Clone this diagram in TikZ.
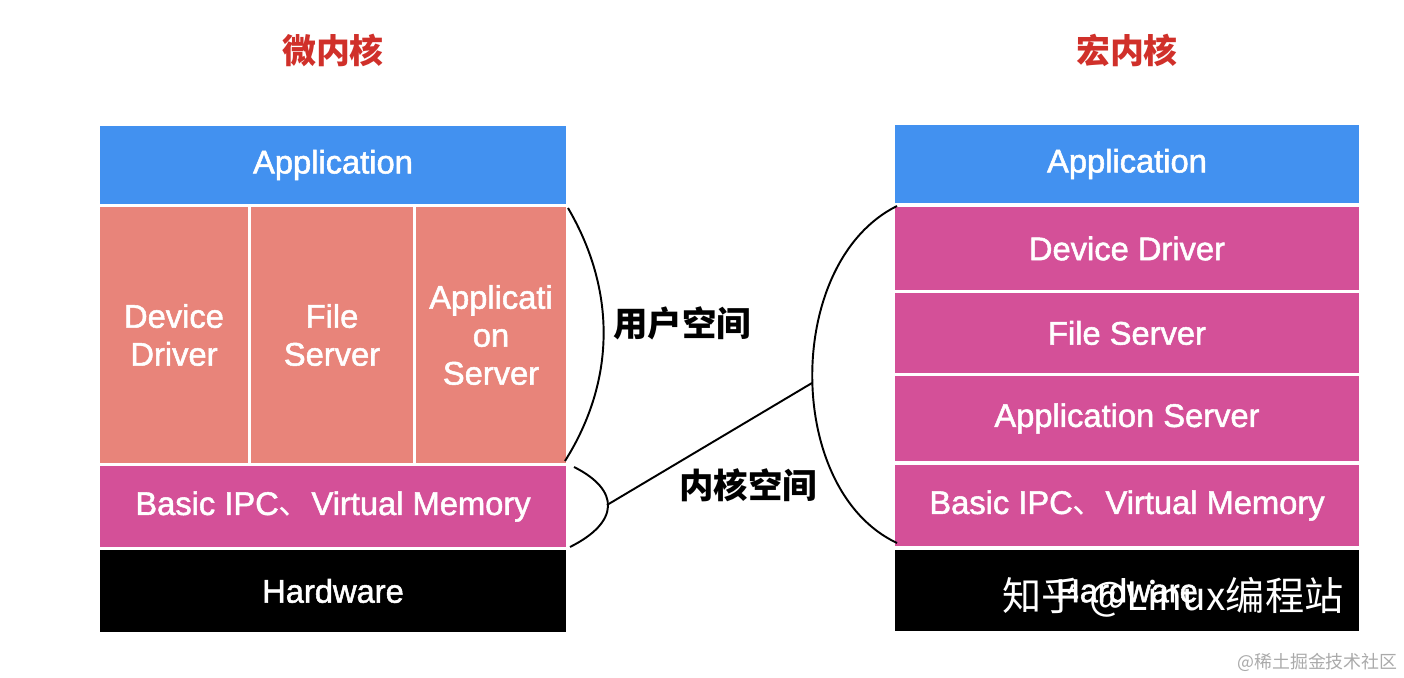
\documentclass[tikz,border=0pt]{standalone}
\usepackage{fontspec}
\setmainfont{Liberation Sans}
\newfontfamily\cjk{Noto Sans CJK SC}
\newfontfamily\lab{Liberation Sans}[FakeBold=1.6]
\definecolor{appblue}{RGB}{66,145,240}
\definecolor{salmon}{RGB}{232,132,122}
\definecolor{kmag}{RGB}{212,80,152}
\definecolor{titlered}{RGB}{208,48,42}
\definecolor{markgray}{RGB}{170,170,170}
\tikzset{
  blk/.style={inner sep=0pt, outer sep=0pt, align=center, text=white,
    font=\lab\fontsize{18.6}{21.6}\selectfont},
  appblk/.style={blk, fill=appblue},
  userblk/.style={blk, fill=salmon},
  kernblk/.style={blk, fill=kmag},
  hwblk/.style={blk, fill=black},
  title/.style={text=titlered, font=\cjk\bfseries\fontsize{19.3}{22}\selectfont},
  spacelabel/.style={text=black, font=\cjk\bfseries\fontsize{19.6}{22}\selectfont},
  brace/.style={draw=black, line width=1.1pt},
}
\begin{document}
\begin{tikzpicture}[x=0.02cm, y=-0.02cm]
\useasboundingbox (0,0) rectangle (1404,678);
% titles
\node[title] (tmicro) at (333,50) {微内核};
\node[title] (tmacro) at (1127,50) {宏内核};
% left stack (microkernel)
\node[appblk, minimum width=466*0.02cm, minimum height=78*0.02cm] (lapp) at (333,165) {\raisebox{-1.5pt}{Application}};
\node[userblk, minimum width=148*0.02cm, minimum height=256*0.02cm] (ldev) at (174,335) {Device\\Driver};
\node[userblk, minimum width=162*0.02cm, minimum height=256*0.02cm] (lfile) at (332,335) {File\\Server};
\node[userblk, minimum width=150*0.02cm, minimum height=256*0.02cm] (laps) at (491,335) {Applicati\\on\\Server};
\node[kernblk, minimum width=466*0.02cm, minimum height=81*0.02cm] (lipc) at (333,506.5) {\raisebox{-1.5pt}{Basic IPC{\cjk 、}Virtual Memory}};
\node[hwblk, minimum width=466*0.02cm, minimum height=82*0.02cm] (lhw) at (333,591) {Hardware};
% right stack (monolithic kernel)
\node[appblk, minimum width=464*0.02cm, minimum height=78*0.02cm] (rapp) at (1127,164) {\raisebox{-1.5pt}{Application}};
\node[kernblk, minimum width=464*0.02cm, minimum height=83*0.02cm] (rdev) at (1127,248.5) {\raisebox{-1pt}{Device Driver}};
\node[kernblk, minimum width=464*0.02cm, minimum height=80*0.02cm] (rfile) at (1127,333) {File Server};
\node[kernblk, minimum width=464*0.02cm, minimum height=85*0.02cm] (raps) at (1127,418.5) {\raisebox{-1.5pt}{Application Server}};
\node[kernblk, minimum width=464*0.02cm, minimum height=81*0.02cm] (ripc) at (1127,505.5) {\raisebox{-1.5pt}{Basic IPC{\cjk 、}Virtual Memory}};
\node[hwblk, minimum width=464*0.02cm, minimum height=81*0.02cm] (rhw) at (1127,590.5) {Hardware};
% watermark texts
\node[text=white, inner sep=0pt, font=\cjk\fontsize{22.3}{25}\selectfont] (wm) at (1173,597) {知乎 @Linux编程站};
\node[text=markgray, inner sep=0pt, anchor=east, font=\cjk\fontsize{10.2}{12}\selectfont] (jj) at (1398,662) {@稀土掘金技术社区};
% brackets
\coordinate (ut) at (568,208);
\coordinate (ub) at (565,461);
\coordinate (kt) at (574,467);
\coordinate (ktip) at (607,505);
\coordinate (kb) at (570,547);
\coordinate (rt) at (897,206);
\coordinate (rmid) at (812,383);
\coordinate (rb) at (897,543);
\draw[brace] (ut) .. controls (616,290) and (616,380) .. (ub);
\draw[brace] (kt) .. controls (620,490) and (620,522) .. (kb);
\draw[brace] (ktip) -- (rmid);
\draw[brace] (rt) .. controls (784,262) and (784,490) .. (rb);
% space labels
\node[spacelabel] (uspace) at (682,323) {用户空间};
\node[spacelabel] (kspace) at (748,485) {内核空间};
\end{tikzpicture}
\end{document}
